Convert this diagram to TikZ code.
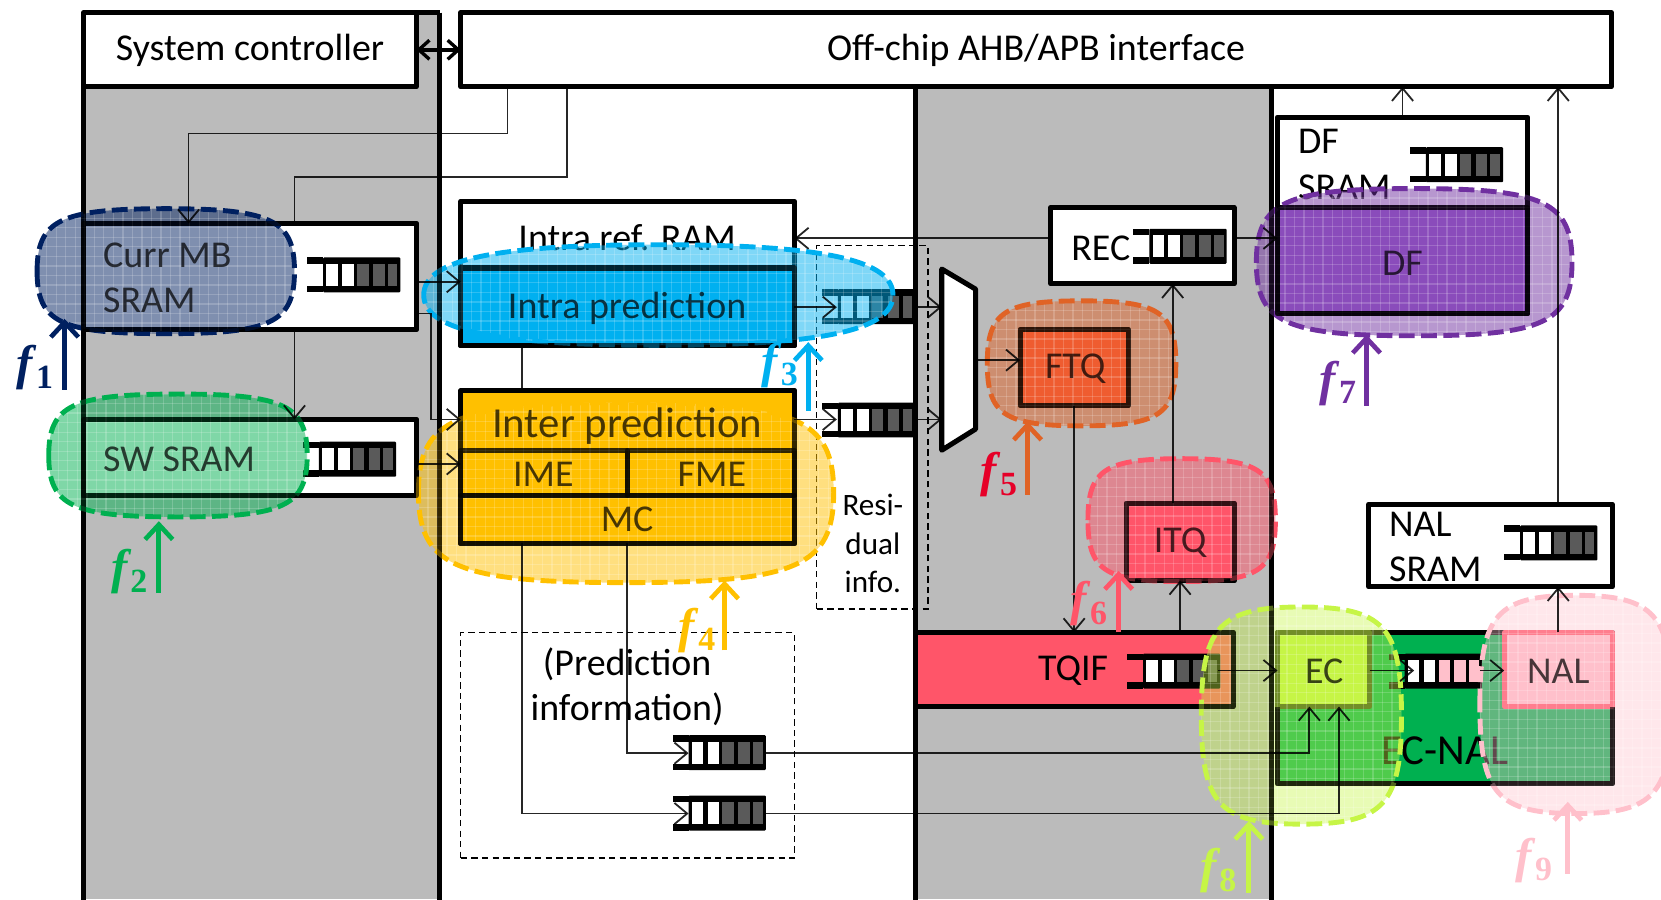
\documentclass[tikz,border=0pt]{standalone}
\usepackage{fontspec}
\setmainfont{Carlito}
\newfontfamily\mathfam{Liberation Serif}
\usetikzlibrary{arrows.meta}
\definecolor{cgray}{RGB}{187,187,187}
\definecolor{cnavy}{RGB}{0,32,96}
\definecolor{cgreen}{RGB}{0,176,80}
\definecolor{cblue}{RGB}{0,176,240}
\definecolor{cgold}{RGB}{255,192,0}
\definecolor{corange}{RGB}{224,99,38}
\definecolor{cred}{RGB}{255,85,105}
\definecolor{cpurple}{RGB}{112,48,160}
\definecolor{clime}{RGB}{198,245,70}
\definecolor{cpink}{RGB}{255,192,203}
\definecolor{cdark}{RGB}{90,90,90}
\definecolor{cftq}{RGB}{255,85,60}
\definecolor{cdf}{RGB}{165,105,215}
\definecolor{cfive}{RGB}{230,0,40}
\tikzset{
  x=0.5pt,y=-0.5pt,
  box/.style={draw=black,line width=2.4pt,fill=white,inner sep=0pt,outer sep=0pt,line join=round},
  lbl/.style={font=\fontsize{17.9}{21.5}\selectfont,inner sep=0pt,align=center,yshift=-1.2pt},
  lblb/.style={font=\fontsize{20.2}{24}\selectfont,inner sep=0pt,align=center,yshift=-1.2pt},
  lbls/.style={font=\fontsize{14.7}{18}\selectfont,inner sep=0pt,align=center},
  thru/.style={text opacity=.72},
  conn/.style={draw=black,line width=0.85pt,draw opacity=.85,-{Straight Barb[length=6pt,width=10pt,line width=0.85pt]}},
  wire/.style={draw=black,line width=0.85pt,draw opacity=.85},
  border/.style={draw=black,line width=2.4pt},
  restroke/.style={draw=black,line width=2.4pt,draw opacity=.6,line join=round},
  dbox/.style={draw=black,line width=0.6pt,dash pattern=on 3pt off 2pt,fill=none,inner sep=0pt,outer sep=0pt},
  fbar/.style={line width=2.4pt,-{Straight Barb[length=7pt,width=13pt,line width=2.2pt]}},
  flab/.style={inner sep=0pt,font=\fontsize{23}{23}\selectfont},
}
% named rectangular node given by its corners
\newcommand\bx[7]{%
  \pgfmathsetmacro\cxa{(#2+#4)/2}\pgfmathsetmacro\cya{(#3+#5)/2}%
  \pgfmathsetmacro\wa{(#4-#2)/2}\pgfmathsetmacro\ha{(#5-#3)/2}%
  \node[#6,minimum width=\wa pt,minimum height=\ha pt] (#1) at (\cxa,\cya) {#7};}
\newcommand\outl[1]{\draw[restroke] (#1.north west) rectangle (#1.south east);}
% fifo
\newcommand\fifo[4]{%
  \begin{scope}[shift={(#3,#4)}]
    \fill[black,rounded corners=0.5pt] (15,0) rectangle (88,33);
    \fill[black] (0,0) rectangle (15,6);
    \fill[black] (0,27) rectangle (15,33);
    \fill[#1] (18,6) rectangle (29,27);
    \fill[#1] (33,6) rectangle (44,27);
    \fill[#2] (47,6) rectangle (58,27);
    \fill[#2] (62,6) rectangle (73,27);
    \fill[#2] (76,6) rectangle (85,27);
  \end{scope}}
% superelliptic dashed hatched blob
\def\blobop{.5}
\newcommand\blob[6][.82]{%
  \pgfmathsetmacro\xm{(#3+#5)/2}\pgfmathsetmacro\ym{(#4+#6)/2}%
  \pgfmathsetmacro\dx{#1*(#5-#3)/2}\pgfmathsetmacro\dy{#1*(#6-#4)/2}%
  \pgfmathsetmacro\xa{\xm-\dx}\pgfmathsetmacro\xb{\xm+\dx}%
  \pgfmathsetmacro\ya{\ym-\dy}\pgfmathsetmacro\yb{\ym+\dy}%
  \def\bp{(#3,\ym) .. controls (#3,\ya) and (\xa,#4) .. (\xm,#4)
    .. controls (\xb,#4) and (#5,\ya) .. (#5,\ym)
    .. controls (#5,\yb) and (\xb,#6) .. (\xm,#6)
    .. controls (\xa,#6) and (#3,\yb) .. (#3,\ym) -- cycle}%
  \fill[#2,fill opacity=\blobop] \bp;
  \begin{scope}
    \clip \bp;
    \foreach \gi in {0,...,60}{%
      \draw[white,opacity=.18,line width=.6pt] ({#3+\gi*9},#4) -- ({#3+\gi*9},#6);
      \draw[white,opacity=.18,line width=.6pt] (#3,{#4+\gi*9}) -- (#5,{#4+\gi*9});}
  \end{scope}
  \draw[#2,line width=2.3pt,dash pattern=on 7.5pt off 3pt] \bp;}
% labelled frequency arrow
\newcommand\farrow[9]{%
  \coordinate (#1s) at (#4,#5);\coordinate (#1e) at (#4,#6);
  \draw[fbar,draw=#2] (#1s) -- (#1e);
  \node[flab,text=#3] (#1) at (#7,#8) {\mathfam\bfseries\itshape f\hspace{1.5pt}\raisebox{-4pt}{\upshape\fontsize{16}{16}\selectfont #9}};}
\begin{document}
\begin{tikzpicture}
\useasboundingbox (0,0) rectangle (1568,849);
\clip (0,0) rectangle (1568,849);
% bands
\fill[cgray] (79,12) rectangle (415,849);
\fill[cgray] (864,82) rectangle (1200,849);
\coordinate (b1t) at (79,12);\coordinate (b1b) at (79,851);
\coordinate (b2t) at (415,12);\coordinate (b2b) at (415,851);
\coordinate (b3t) at (864,82);\coordinate (b3b) at (864,851);
\coordinate (b4t) at (1200,82);\coordinate (b4b) at (1200,851);
\draw[border] (b1t)--(b1b) (b2t)--(b2b) (b3t)--(b3b) (b4t)--(b4b);
\draw[border] (b1t)--(b2t);
% top boxes
\bx{sys}{79}{12}{393}{82}{box}{}
\bx{off}{435}{12}{1521}{82}{box}{}
\node[lbl] (syst) at (236,45) {System controller};
\node[lbl] (offt) at (978,45) {Off-chip AHB/APB interface};
\draw[line width=1.9pt,{Straight Barb[length=5pt,width=9pt,line width=1.6pt]}-{Straight Barb[length=5pt,width=9pt,line width=1.6pt]}] (sys.east |- 0,47) -- (off.west |- 0,47);
% memory boxes
\bx{cur}{79}{211}{393}{311}{box}{}
\bx{sw}{79}{396}{393}{468}{box}{}
\bx{ram}{435}{190}{750}{326}{box}{}
\node[lbl] (ramt) at (592,222) {Intra ref. RAM};
\bx{intra}{435}{253}{750}{326}{box,fill=cblue}{}
\bx{inter}{435}{369}{750}{513}{box,fill=cgold}{}
\bx{ime}{435}{425}{592}{468}{box,fill=cgold}{}
\bx{fme}{592}{425}{750}{468}{box,fill=cgold}{}
\bx{mc}{435}{468}{750}{513}{box,fill=cgold}{}
% dashed regions
\bx{res}{771}{232}{876}{575}{dbox}{}
\bx{pred}{435}{597}{750}{810}{dbox}{}
\node[lbls] (rest) at (824,513) {Resi-\\dual\\info.};
% mux
\coordinate (m1) at (889,254);\coordinate (m2) at (921,273);\coordinate (m3) at (921,405);\coordinate (m4) at (889,425);
\filldraw[fill=white,draw=black,line width=2.4pt,line join=round] (m1)--(m2)--(m3)--(m4)--cycle;
% right column
\bx{ftq}{963}{311}{1065}{383}{box,fill=cftq}{}
\bx{rec}{992}{196}{1165}{268}{box}{}
\node[lbl,anchor=west] (rect) at (1011,232) {REC};
\bx{itq}{1063}{475}{1165}{548}{box,fill=cred}{}
\bx{tqif}{864}{597}{1164}{667}{box,fill=cred}{}
\node[lbl] (tqift) at (1013,631) {TQIF};
\bx{ecnal}{1206}{597}{1522}{740}{box,fill=cgreen}{}
\node[lblb] (ecnalt) at (1364,706) {EC-NAL};
\bx{ec}{1206}{597}{1293}{667}{box,fill=clime,draw=black!70!clime}{}
\bx{nal}{1420}{597}{1522}{667}{box,fill=cpink,draw=cred}{}
\bx{nals}{1292}{476}{1522}{554}{box}{}
\node[lbl,align=left,anchor=west] (nalst) at (1311,514) {NAL\\SRAM};
\bx{dfs}{1206}{111}{1442}{296}{box}{}
\node[lbl,align=left,anchor=west] (dfst) at (1225,153) {DF\\SRAM};
\bx{df}{1206}{196}{1442}{296}{box,fill=cdf}{}
% fifos
\fifo{white}{cdark}{290}{243}
\fifo{white}{cdark}{286}{417}
\fifo{white}{cdark}{776}{273}
\fifo{white}{cdark}{776}{380}
\fifo{white}{cdark}{635}{694}
\fifo{white}{cdark}{635}{751}
\fifo{white}{cdark}{1070}{216}
\fifo{white}{cdark}{1331}{139}
\fifo{white}{cdark}{1420}{496}
\fifo{white}{cdark}{1064}{617}
\fifo{white}{cpink}{1311}{617}
% blobs
\blob{cnavy}{35}{197}{278}{315}
\blob{cgreen}{46}{372}{290}{488}
\blob[.7]{cblue}{400}{231}{843}{326}
\blob{cgold}{395}{380}{787}{550}
\blob{corange}{932}{284}{1110}{402}
\blob{cred}{1027}{433}{1204}{549}
\blob{cpurple}{1186}{178}{1484}{317}
\def\blobop{.4}
\blob{clime}{1134}{573}{1323}{778}
\def\blobop{.38}
\blob{cpink}{1397}{562}{1578}{768}
% outlines seen through the hatching
\draw[restroke] (b1t)--(b1b) (b2t)--(b2b) (b3t)--(b3b) (b4t)--(b4b);
\outl{cur}\outl{sw}\outl{intra}\outl{inter}\outl{ime}\outl{fme}\outl{mc}
\outl{ftq}\outl{itq}\outl{df}\outl{dfs}
\draw[restroke] (ec.south west) -- (ecnal.south west) -- (ecnal.south east) -- (nal.south east);
\draw[restroke] (tqif.south west) -- (tqif.south east) -- (tqif.north east) -- (tqif.north west);
% connectors
\draw[wire] (intra.south -| 493,0) -- (inter.north -| 493,0);
\draw[conn] (off.south -| 479,0) -- (479,126) -- (178,126) -- (cur.north -| 178,0);
\draw[wire] (off.south -| 535,0) -- (535,167) -- (278,167) -- (cur.north -| 278,0);
\draw[conn] (cur.south -| 278,0) -- (sw.north -| 278,0);
\draw[conn] (cur.east |- 0,266) -- (intra.west |- 0,266);
\draw[conn] (cur.east |- 0,296) -- (407,296) -- (407,396) -- (inter.west |- 0,396);
\draw[conn] (sw.east |- 0,438) -- (inter.west |- 0,438);
\coordinate (f3in) at (790,290);\coordinate (f4in) at (790,396);
\draw[conn] (intra.east |- f3in) -- (f3in);
\draw[conn] (inter.east |- f4in) -- (f4in);
\draw[conn] (864,290) -- (m1 |- 0,290);
\draw[conn] (864,396) -- (m1 |- 0,396);
\draw[conn] (921,340) -- (ftq.west |- 0,340);
\draw[conn] (rec.west |- 0,225) -- (ram.east |- 0,225);
\draw[conn] (rec.east |- 0,225) -- (df.west |- 0,225);
\draw[conn] (itq.north -| 1107,0) -- (rec.south -| 1107,0);
\draw[conn] (ftq.south -| 1014,0) -- (tqif.north -| 1014,0);
\draw[conn] (tqif.north -| 1114,0) -- (itq.south -| 1114,0);
\draw[conn] (1150,633) -- (ec.west |- 0,633);
\draw[conn] (ec.east |- 0,633) -- (1335,633);
\draw[conn] (1397,633) -- (nal.west |- 0,633);
\draw[conn] (nal.north -| 1471,0) -- (nals.south -| 1471,0);
\draw[conn] (nals.north -| 1471,0) -- (off.south -| 1471,0);
\draw[conn] (dfs.north -| 1324,0) -- (off.south -| 1324,0);
\draw[conn] (mc.south -| 493,0) -- (493,768) -- (650,768);
\draw[conn] (mc.south -| 592,0) -- (592,711) -- (650,711);
\draw[conn] (722,711) -- (1236,711) -- (ec.south -| 1236,0);
\draw[conn] (722,768) -- (1264,768) -- (ec.south -| 1264,0);
% texts seen through the hatching
\node[lbl,thru,align=left,anchor=west] (curt) at (97,260) {Curr MB\\SRAM};
\node[lbl,thru,anchor=west] (swt) at (97,431) {SW SRAM};
\node[lbl,thru] (intrat) at (592,289) {Intra prediction};
\node[lblb,thru] (intert) at (592,400) {Inter prediction};
\node[lbl,thru] (imet) at (513,445) {IME};
\node[lbl,thru] (fmet) at (672,445) {FME};
\node[lbl,thru] (mct) at (592,488) {MC};
\node[lbl,thru] (ftqt) at (1015,346) {FTQ};
\node[lbl,thru] (itqt) at (1114,510) {ITQ};
\node[lbl,thru] (dft) at (1324,246) {DF};
\node[lbl,thru] (ect) at (1250,631) {EC};
\node[lbl,thru] (nalt) at (1471,631) {NAL};
\node[lbl] (predt) at (592,646) {(Prediction\\information)};
% frequency arrows
\farrow{fa}{cnavy}{cnavy}{61}{368}{301}{33}{347}{1}
\farrow{fb}{cgreen}{cgreen}{150}{560}{492}{122}{540}{2}
\farrow{fc}{cblue}{cblue}{763}{388}{323}{736}{345}{3}
\farrow{fd}{cgold}{cgold}{684}{614}{548}{658}{595}{4}
\farrow{fe}{corange}{cfive}{970}{467}{398}{943}{448}{5}
\farrow{ff}{cred}{cred}{1056}{597}{539}{1028}{570}{6}
\farrow{fg}{cpurple}{cpurple}{1290}{383}{316}{1263}{362}{7}
\farrow{fh}{clime}{clime}{1179}{843}{775}{1150}{822}{8}
\farrow{fi}{cpink}{cpink}{1480}{825}{757}{1448}{812}{9}
\end{tikzpicture}
\end{document}
